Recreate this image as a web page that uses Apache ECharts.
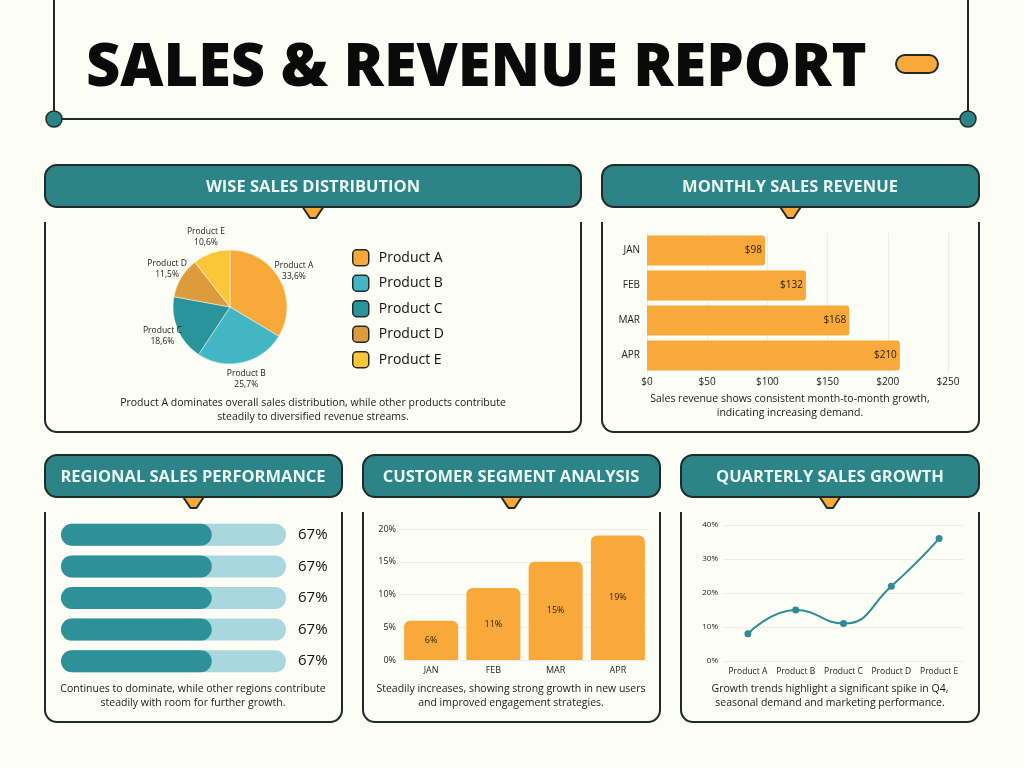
<!DOCTYPE html>
<html>
<head>
<meta charset="utf-8">
<script src="https://cdn.jsdelivr.net/npm/echarts@6/dist/echarts.min.js"></script>
<style>
  html, body { margin: 0; padding: 0; background: #FCFDF4; }
  #main { width: 1024px; height: 768px; }
</style>
</head>
<body>
<div id="main"></div>
<script>
// pie: sales distribution
var products = ['Product A', 'Product B', 'Product C', 'Product D', 'Product E'];
var productShare = [33.6, 25.7, 18.6, 11.5, 10.6];
// monthly revenue
var months = ['JAN', 'FEB', 'MAR', 'APR'];
var revenue = [98, 132, 168, 210];
// regional progress
var regions = ['Region 1', 'Region 2', 'Region 3', 'Region 4', 'Region 5'];
var regionValues = [67, 67, 67, 67, 67];
// customer segment
var segmentValues = [6, 11, 15, 19];
// quarterly growth
var growthValues = [8, 15, 11, 22, 36];

var ink = '#1F2A2A';
var teal = '#2C8488';
var orange = '#F8A93A';
var pieColors = ['#F8A93A', '#43B6C3', '#2A949C', '#DD9B3C', '#FBC638'];
var font = '"Open Sans", sans-serif';
var splitColor = '#ECEDE6';

// 面板：标题条 + 小三角 + 下方开口边框
function panel(x1, x2, y) {
  var cx = (x1 + x2) / 2;
  var b = y + 267, t = y + 57, r = 12;
  var st = { stroke: ink, lineWidth: 2, fill: null };
  return [
    { type: 'line', shape: { x1: x1, y1: t, x2: x1, y2: b - r }, style: st },
    { type: 'line', shape: { x1: x2, y1: t, x2: x2, y2: b - r }, style: st },
    { type: 'line', shape: { x1: x1 + r, y1: b, x2: x2 - r, y2: b }, style: st },
    { type: 'arc', shape: { cx: x1 + r, cy: b - r, r: r, startAngle: Math.PI / 2, endAngle: Math.PI }, style: st },
    { type: 'arc', shape: { cx: x2 - r, cy: b - r, r: r, startAngle: 0, endAngle: Math.PI / 2 }, style: st },
    {
      type: 'polygon',
      shape: { points: [[cx - 13, y + 38], [cx + 13, y + 38], [cx + 3, y + 53], [cx - 3, y + 53]] },
      style: { fill: orange, stroke: ink, lineWidth: 2, lineJoin: 'round' }
    },
    {
      type: 'rect',
      shape: { x: x1, y: y, width: x2 - x1, height: 42, r: 12 },
      style: { fill: teal, stroke: ink, lineWidth: 2 }
    }
  ];
}

function headerText(cx, y, text) {
  return {
    type: 'text', x: cx, y: y + 22,
    style: { text: text, fill: '#EAF6F1', font: 'bold 16.5px ' + font, textAlign: 'center', textVerticalAlign: 'middle' }
  };
}

function caption(cx, y, text) {
  return {
    type: 'text', x: cx, y: y,
    style: { text: text, fill: '#1A1A1A', font: '10.5px ' + font, textAlign: 'center', lineHeight: 14 }
  };
}

var graphics = [
  { type: 'line', shape: { x1: 54, y1: 0, x2: 54, y2: 119 }, style: { stroke: ink, lineWidth: 2 } },
  { type: 'line', shape: { x1: 968, y1: 0, x2: 968, y2: 119 }, style: { stroke: ink, lineWidth: 2 } },
  { type: 'line', shape: { x1: 54, y1: 119, x2: 968, y2: 119 }, style: { stroke: ink, lineWidth: 2 } },
  { type: 'circle', shape: { cx: 54, cy: 119, r: 8 }, style: { fill: teal, stroke: ink, lineWidth: 1.5 } },
  { type: 'circle', shape: { cx: 968, cy: 119, r: 8 }, style: { fill: teal, stroke: ink, lineWidth: 1.5 } },
  { type: 'rect', shape: { x: 896, y: 55, width: 42, height: 18, r: 9 }, style: { fill: orange, stroke: ink, lineWidth: 2 } },
  {
    type: 'text', x: 86, y: 69,
    style: { text: 'SALES & REVENUE REPORT', fill: '#0A0A0A', font: '800 59.5px ' + font, textVerticalAlign: 'middle' }
  }
];

graphics = graphics
  .concat(panel(45, 581, 165)).concat(panel(602, 979, 165))
  .concat(panel(45, 342, 455)).concat(panel(363, 660, 455)).concat(panel(681, 979, 455));

graphics.push(headerText(313, 165, 'WISE SALES DISTRIBUTION'));
graphics.push(headerText(790, 165, 'MONTHLY SALES REVENUE'));
graphics.push(headerText(193, 455, 'REGIONAL SALES PERFORMANCE'));
graphics.push(headerText(511, 455, 'CUSTOMER SEGMENT ANALYSIS'));
graphics.push(headerText(830, 455, 'QUARTERLY SALES GROWTH'));

graphics.push(caption(313, 396, 'Product A dominates overall sales distribution, while other products contribute\nsteadily to diversified revenue streams.'));
graphics.push(caption(790, 392, 'Sales revenue shows consistent month-to-month growth,\nindicating increasing demand.'));
graphics.push(caption(193, 682, 'Continues to dominate, while other regions contribute\nsteadily with room for further growth.'));
graphics.push(caption(511, 682, 'Steadily increases, showing strong growth in new users\nand improved engagement strategies.'));
graphics.push(caption(830, 682, 'Growth trends highlight a significant spike in Q4,\nseasonal demand and marketing performance.'));

var pieData = products.map(function (name, i) {
  return { name: name, value: productShare[i], itemStyle: { color: pieColors[i] } };
});

var axisText = { color: '#222', fontFamily: font };

var myChart = echarts.init(document.getElementById('main'));
myChart.setOption({
  backgroundColor: '#FCFDF4',
  animation: false,
  textStyle: { fontFamily: font },
  graphic: { elements: graphics },
  legend: {
    orient: 'vertical',
    left: 352, top: 249, padding: 0,
    itemWidth: 16, itemHeight: 16, itemGap: 8,
    icon: 'roundRect',
    data: products,
    itemStyle: { borderColor: ink, borderWidth: 1.5 },
    textStyle: { fontSize: 14, color: '#111', fontFamily: font, padding: [0, 0, 0, 5] }
  },
  grid: [
    { left: 647, right: 76, top: 233, height: 140 },
    { left: 61, width: 225, top: 519, height: 158 },
    { left: 400, right: 375, top: 529, bottom: 108 },
    { left: 724, right: 61, top: 525, bottom: 107 }
  ],
  xAxis: [
    {
      gridIndex: 0, type: 'value', min: 0, max: 250, interval: 50,
      axisLabel: Object.assign({ fontSize: 10, margin: 4, formatter: '${value}' }, axisText),
      splitLine: { lineStyle: { color: splitColor } },
      axisLine: { show: false }, axisTick: { show: false }
    },
    { gridIndex: 1, type: 'value', min: 0, max: 100, show: false },
    {
      gridIndex: 2, type: 'category', data: months,
      axisLabel: Object.assign({ fontSize: 9, margin: 6 }, axisText),
      axisLine: { show: false }, axisTick: { show: false }
    },
    {
      gridIndex: 3, type: 'category', data: products,
      axisLabel: Object.assign({ fontSize: 8.5, margin: 6, interval: 0 }, axisText),
      axisLine: { show: false }, axisTick: { show: false }
    }
  ],
  yAxis: [
    {
      gridIndex: 0, type: 'category', data: months, inverse: true,
      axisLabel: Object.assign({ fontSize: 10, margin: 7 }, axisText),
      axisLine: { show: false }, axisTick: { show: false }
    },
    { gridIndex: 1, type: 'category', data: regions, inverse: true, show: false },
    {
      gridIndex: 2, type: 'value', min: 0, max: 20, interval: 5,
      axisLabel: Object.assign({ fontSize: 9, margin: 4, formatter: '{value}%' }, axisText),
      splitLine: { lineStyle: { color: splitColor } }
    },
    {
      gridIndex: 3, type: 'value', min: 0, max: 40, interval: 10,
      axisLabel: Object.assign({ fontSize: 8, margin: 6, formatter: '{value}%' }, axisText),
      splitLine: { lineStyle: { color: splitColor } }
    }
  ],
  series: [
    {
      type: 'pie',
      center: [230, 307], radius: [0, 57],
      startAngle: 90, clockwise: true,
      data: pieData,
      itemStyle: { borderColor: '#FCFDF4', borderWidth: 0.5 },
      label: { show: false }, labelLine: { show: false }
    },
    {
      // 透明外环，只用来放标签
      type: 'pie',
      center: [230, 307], radius: [57, 84],
      startAngle: 90, clockwise: true, silent: true,
      legendHoverLink: false,
      data: pieData.map(function (d) { return { name: d.name, value: d.value }; }),
      itemStyle: { color: 'rgba(0,0,0,0)' },
      label: {
        show: true, position: 'inside', fontSize: 8.5, color: '#222', lineHeight: 11,
        formatter: function (p) { return p.name + '\n' + String(p.value).replace('.', ',') + '%'; }
      },
      labelLine: { show: false }
    },
    {
      type: 'bar', xAxisIndex: 0, yAxisIndex: 0,
      data: revenue, barWidth: 30,
      itemStyle: { color: orange, borderRadius: [0, 3, 3, 0] },
      label: { show: true, position: 'insideRight', formatter: '${c}', fontSize: 10, color: '#2A1E0A', distance: 3 }
    },
    {
      type: 'bar', xAxisIndex: 1, yAxisIndex: 1,
      data: regions.map(function () { return 100; }), barWidth: 22, silent: true,
      itemStyle: { color: '#A8D8DE', borderRadius: 11 },
      label: {
        show: true, position: 'right', distance: 12, fontSize: 15, color: '#111',
        formatter: function (p) { return regionValues[p.dataIndex] + '%'; }
      }
    },
    {
      type: 'bar', xAxisIndex: 1, yAxisIndex: 1,
      data: regionValues, barWidth: 22, barGap: '-100%',
      itemStyle: { color: '#2E919A', borderRadius: 11 }
    },
    {
      type: 'bar', xAxisIndex: 2, yAxisIndex: 2,
      data: segmentValues, barWidth: 54,
      itemStyle: { color: orange, borderRadius: [6, 6, 0, 0] },
      label: { show: true, position: 'inside', formatter: '{c}%', fontSize: 9, color: '#2A1E0A' }
    },
    {
      type: 'line', xAxisIndex: 3, yAxisIndex: 3,
      data: growthValues, smooth: true,
      symbol: 'circle', symbolSize: 7,
      lineStyle: { color: '#2E8C96', width: 2 },
      itemStyle: { color: '#2E8C96' }
    }
  ]
});
</script>
</body>
</html>
